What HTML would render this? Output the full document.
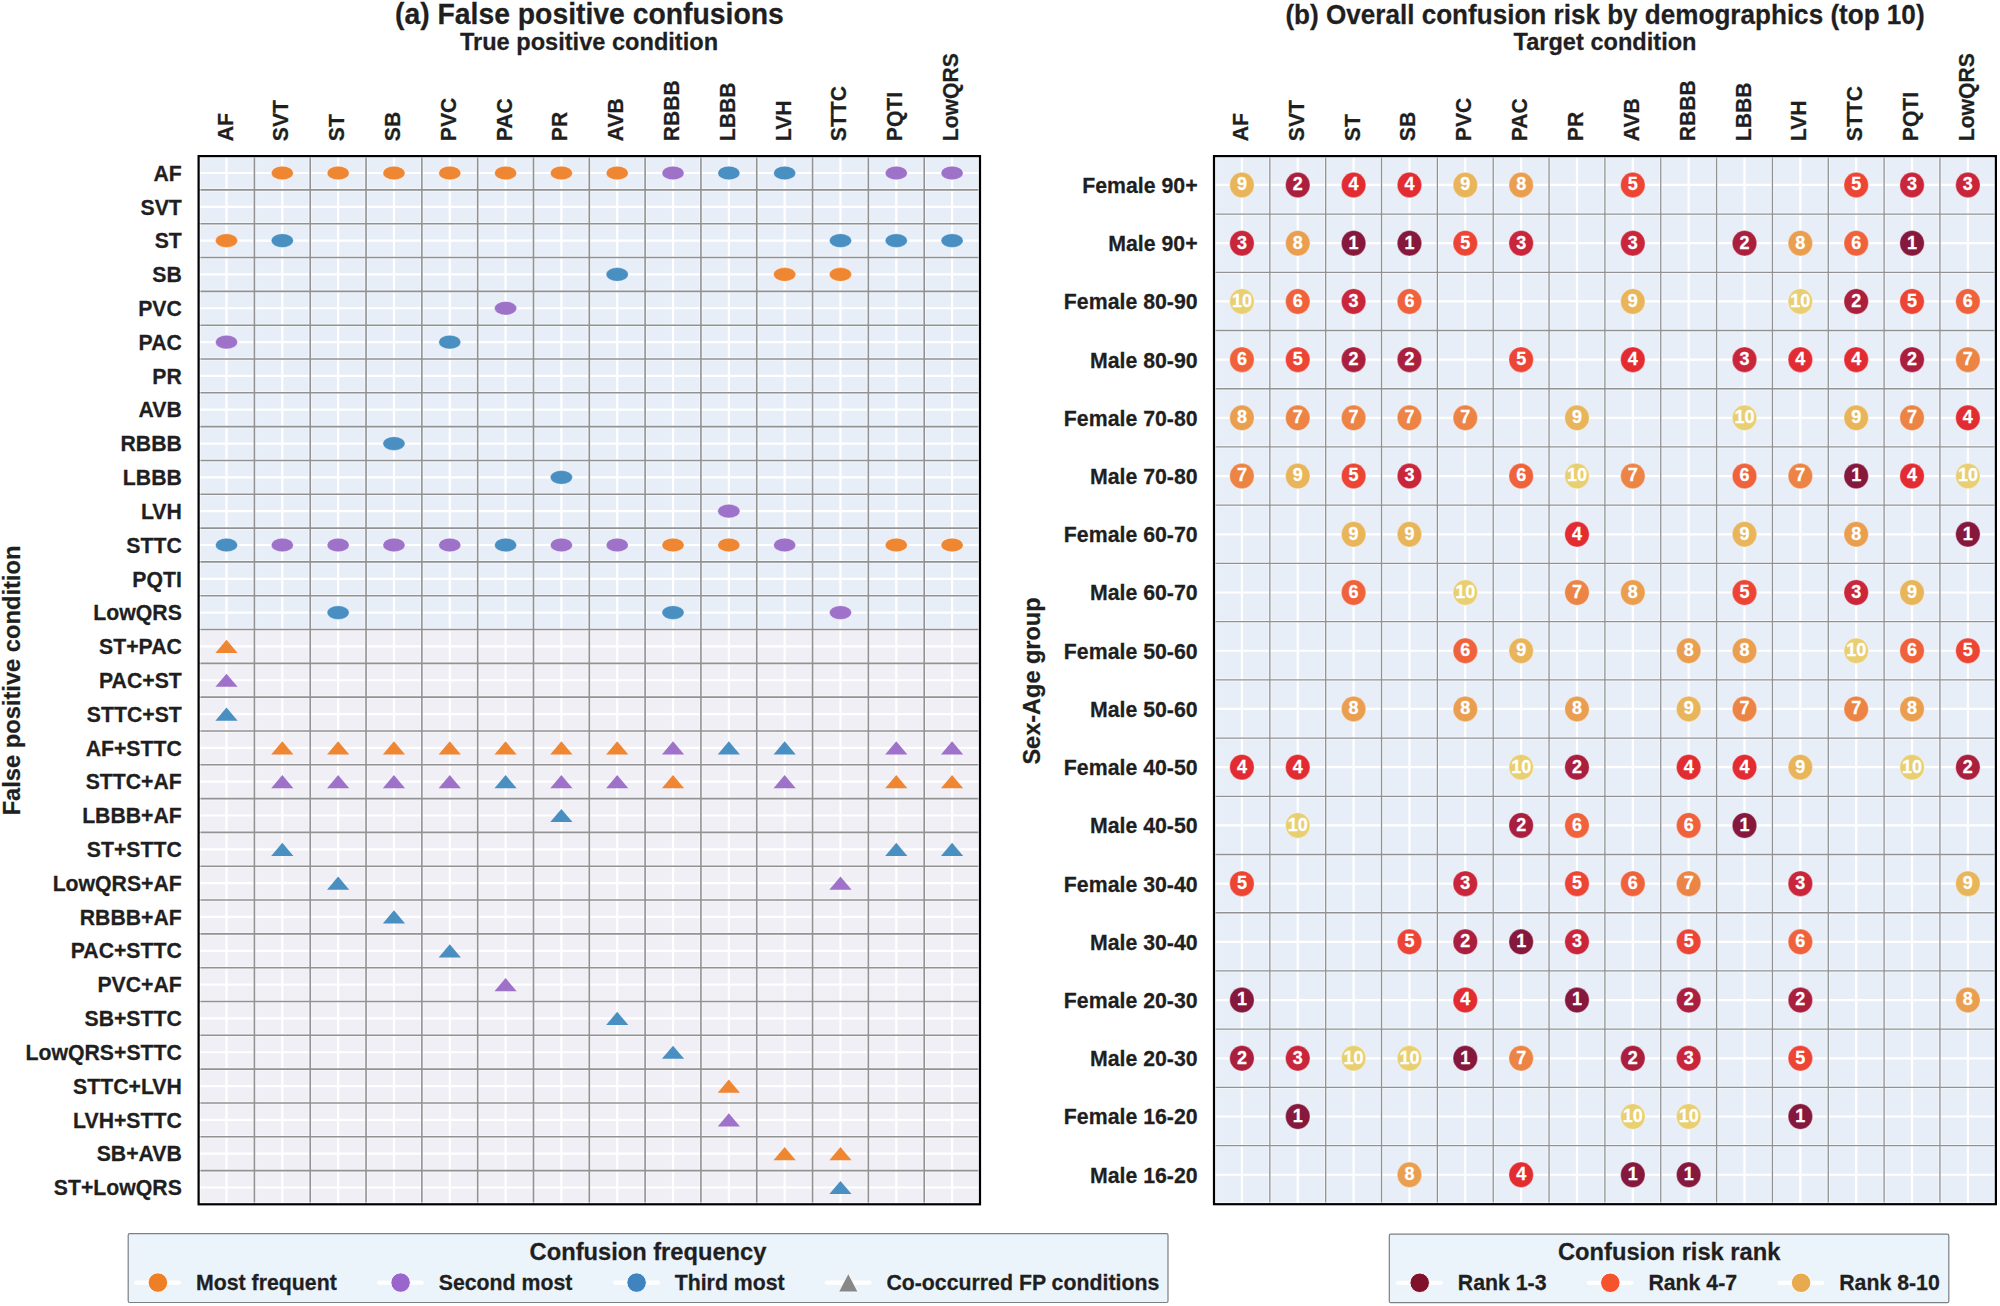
<!DOCTYPE html>
<html lang="en"><head><meta charset="utf-8"><title>Confusion figure</title>
<style>html,body{margin:0;padding:0;background:#fff}svg{display:block}text{stroke:#1f1f1f;stroke-width:.25px}text.w{fill:#fff;stroke:#fff}</style></head>
<body>
<svg width="2000" height="1306" viewBox="0 0 2000 1306" font-family="'Liberation Sans', Arial, sans-serif" font-weight="bold" fill="#1f1f1f">
<rect width="2000" height="1306" fill="#ffffff"/>
<text transform="translate(589.4 23.5) scale(1 1.04)" font-size="28.35" text-anchor="middle">(a) False positive confusions</text>
<text transform="translate(589 49.7) scale(1 1.04)" font-size="23.6" text-anchor="middle">True positive condition</text>
<text transform="translate(1605 23.7) scale(1 1.04)" font-size="26.1" text-anchor="middle">(b) Overall confusion risk by demographics (top 10)</text>
<text transform="translate(1605 49.7) scale(1 1.04)" font-size="23.6" text-anchor="middle">Target condition</text>
<rect x="198.6" y="156.1" width="781.4" height="473.43" fill="#e7eef7"/>
<rect x="198.6" y="629.53" width="781.4" height="574.87" fill="#efeff5"/>
<path d="M226.51 156.1V1204.4M282.32 156.1V1204.4M338.14 156.1V1204.4M393.95 156.1V1204.4M449.76 156.1V1204.4M505.58 156.1V1204.4M561.39 156.1V1204.4M617.21 156.1V1204.4M673.02 156.1V1204.4M728.84 156.1V1204.4M784.65 156.1V1204.4M840.46 156.1V1204.4M896.28 156.1V1204.4M952.09 156.1V1204.4M198.6 173.01H980M198.6 206.82H980M198.6 240.64H980M198.6 274.46H980M198.6 308.27H980M198.6 342.09H980M198.6 375.9H980M198.6 409.72H980M198.6 443.54H980M198.6 477.35H980M198.6 511.17H980M198.6 544.99H980M198.6 578.8H980M198.6 612.62H980M198.6 646.43H980M198.6 680.25H980M198.6 714.07H980M198.6 747.88H980M198.6 781.7H980M198.6 815.51H980M198.6 849.33H980M198.6 883.15H980M198.6 916.96H980M198.6 950.78H980M198.6 984.6H980M198.6 1018.41H980M198.6 1052.23H980M198.6 1086.04H980M198.6 1119.86H980M198.6 1153.68H980M198.6 1187.49H980" stroke="#ffffff" stroke-width="2.2" fill="none"/>
<path d="M254.41 156.1V1204.4M310.23 156.1V1204.4M366.04 156.1V1204.4M421.86 156.1V1204.4M477.67 156.1V1204.4M533.49 156.1V1204.4M589.3 156.1V1204.4M645.11 156.1V1204.4M700.93 156.1V1204.4M756.74 156.1V1204.4M812.56 156.1V1204.4M868.37 156.1V1204.4M924.19 156.1V1204.4M198.6 189.92H980M198.6 223.73H980M198.6 257.55H980M198.6 291.36H980M198.6 325.18H980M198.6 359H980M198.6 392.81H980M198.6 426.63H980M198.6 460.45H980M198.6 494.26H980M198.6 528.08H980M198.6 561.89H980M198.6 595.71H980M198.6 629.53H980M198.6 663.34H980M198.6 697.16H980M198.6 730.97H980M198.6 764.79H980M198.6 798.61H980M198.6 832.42H980M198.6 866.24H980M198.6 900.05H980M198.6 933.87H980M198.6 967.69H980M198.6 1001.5H980M198.6 1035.32H980M198.6 1069.14H980M198.6 1102.95H980M198.6 1136.77H980M198.6 1170.58H980" stroke="#fff" stroke-opacity="0.45" stroke-width="3.6" fill="none"/>
<path d="M254.41 156.1V1204.4M310.23 156.1V1204.4M366.04 156.1V1204.4M421.86 156.1V1204.4M477.67 156.1V1204.4M533.49 156.1V1204.4M589.3 156.1V1204.4M645.11 156.1V1204.4M700.93 156.1V1204.4M756.74 156.1V1204.4M812.56 156.1V1204.4M868.37 156.1V1204.4M924.19 156.1V1204.4M198.6 189.92H980M198.6 223.73H980M198.6 257.55H980M198.6 291.36H980M198.6 325.18H980M198.6 359H980M198.6 392.81H980M198.6 426.63H980M198.6 460.45H980M198.6 494.26H980M198.6 528.08H980M198.6 561.89H980M198.6 595.71H980M198.6 629.53H980M198.6 663.34H980M198.6 697.16H980M198.6 730.97H980M198.6 764.79H980M198.6 798.61H980M198.6 832.42H980M198.6 866.24H980M198.6 900.05H980M198.6 933.87H980M198.6 967.69H980M198.6 1001.5H980M198.6 1035.32H980M198.6 1069.14H980M198.6 1102.95H980M198.6 1136.77H980M198.6 1170.58H980" stroke="#929292" stroke-width="1.6" fill="none"/>
<ellipse cx="282.32" cy="173.01" rx="11.1" ry="6.85" fill="#ef8632" stroke="#fff" stroke-width="0.5" stroke-opacity="0.7"/>
<ellipse cx="338.14" cy="173.01" rx="11.1" ry="6.85" fill="#ef8632" stroke="#fff" stroke-width="0.5" stroke-opacity="0.7"/>
<ellipse cx="393.95" cy="173.01" rx="11.1" ry="6.85" fill="#ef8632" stroke="#fff" stroke-width="0.5" stroke-opacity="0.7"/>
<ellipse cx="449.76" cy="173.01" rx="11.1" ry="6.85" fill="#ef8632" stroke="#fff" stroke-width="0.5" stroke-opacity="0.7"/>
<ellipse cx="505.58" cy="173.01" rx="11.1" ry="6.85" fill="#ef8632" stroke="#fff" stroke-width="0.5" stroke-opacity="0.7"/>
<ellipse cx="561.39" cy="173.01" rx="11.1" ry="6.85" fill="#ef8632" stroke="#fff" stroke-width="0.5" stroke-opacity="0.7"/>
<ellipse cx="617.21" cy="173.01" rx="11.1" ry="6.85" fill="#ef8632" stroke="#fff" stroke-width="0.5" stroke-opacity="0.7"/>
<ellipse cx="673.02" cy="173.01" rx="11.1" ry="6.85" fill="#9f72c9" stroke="#fff" stroke-width="0.5" stroke-opacity="0.7"/>
<ellipse cx="728.84" cy="173.01" rx="11.1" ry="6.85" fill="#4a8fc1" stroke="#fff" stroke-width="0.5" stroke-opacity="0.7"/>
<ellipse cx="784.65" cy="173.01" rx="11.1" ry="6.85" fill="#4a8fc1" stroke="#fff" stroke-width="0.5" stroke-opacity="0.7"/>
<ellipse cx="896.28" cy="173.01" rx="11.1" ry="6.85" fill="#9f72c9" stroke="#fff" stroke-width="0.5" stroke-opacity="0.7"/>
<ellipse cx="952.09" cy="173.01" rx="11.1" ry="6.85" fill="#9f72c9" stroke="#fff" stroke-width="0.5" stroke-opacity="0.7"/>
<ellipse cx="226.51" cy="240.64" rx="11.1" ry="6.85" fill="#ef8632" stroke="#fff" stroke-width="0.5" stroke-opacity="0.7"/>
<ellipse cx="282.32" cy="240.64" rx="11.1" ry="6.85" fill="#4a8fc1" stroke="#fff" stroke-width="0.5" stroke-opacity="0.7"/>
<ellipse cx="840.46" cy="240.64" rx="11.1" ry="6.85" fill="#4a8fc1" stroke="#fff" stroke-width="0.5" stroke-opacity="0.7"/>
<ellipse cx="896.28" cy="240.64" rx="11.1" ry="6.85" fill="#4a8fc1" stroke="#fff" stroke-width="0.5" stroke-opacity="0.7"/>
<ellipse cx="952.09" cy="240.64" rx="11.1" ry="6.85" fill="#4a8fc1" stroke="#fff" stroke-width="0.5" stroke-opacity="0.7"/>
<ellipse cx="617.21" cy="274.46" rx="11.1" ry="6.85" fill="#4a8fc1" stroke="#fff" stroke-width="0.5" stroke-opacity="0.7"/>
<ellipse cx="784.65" cy="274.46" rx="11.1" ry="6.85" fill="#ef8632" stroke="#fff" stroke-width="0.5" stroke-opacity="0.7"/>
<ellipse cx="840.46" cy="274.46" rx="11.1" ry="6.85" fill="#ef8632" stroke="#fff" stroke-width="0.5" stroke-opacity="0.7"/>
<ellipse cx="505.58" cy="308.27" rx="11.1" ry="6.85" fill="#9f72c9" stroke="#fff" stroke-width="0.5" stroke-opacity="0.7"/>
<ellipse cx="226.51" cy="342.09" rx="11.1" ry="6.85" fill="#9f72c9" stroke="#fff" stroke-width="0.5" stroke-opacity="0.7"/>
<ellipse cx="449.76" cy="342.09" rx="11.1" ry="6.85" fill="#4a8fc1" stroke="#fff" stroke-width="0.5" stroke-opacity="0.7"/>
<ellipse cx="393.95" cy="443.54" rx="11.1" ry="6.85" fill="#4a8fc1" stroke="#fff" stroke-width="0.5" stroke-opacity="0.7"/>
<ellipse cx="561.39" cy="477.35" rx="11.1" ry="6.85" fill="#4a8fc1" stroke="#fff" stroke-width="0.5" stroke-opacity="0.7"/>
<ellipse cx="728.84" cy="511.17" rx="11.1" ry="6.85" fill="#9f72c9" stroke="#fff" stroke-width="0.5" stroke-opacity="0.7"/>
<ellipse cx="226.51" cy="544.99" rx="11.1" ry="6.85" fill="#4a8fc1" stroke="#fff" stroke-width="0.5" stroke-opacity="0.7"/>
<ellipse cx="282.32" cy="544.99" rx="11.1" ry="6.85" fill="#9f72c9" stroke="#fff" stroke-width="0.5" stroke-opacity="0.7"/>
<ellipse cx="338.14" cy="544.99" rx="11.1" ry="6.85" fill="#9f72c9" stroke="#fff" stroke-width="0.5" stroke-opacity="0.7"/>
<ellipse cx="393.95" cy="544.99" rx="11.1" ry="6.85" fill="#9f72c9" stroke="#fff" stroke-width="0.5" stroke-opacity="0.7"/>
<ellipse cx="449.76" cy="544.99" rx="11.1" ry="6.85" fill="#9f72c9" stroke="#fff" stroke-width="0.5" stroke-opacity="0.7"/>
<ellipse cx="505.58" cy="544.99" rx="11.1" ry="6.85" fill="#4a8fc1" stroke="#fff" stroke-width="0.5" stroke-opacity="0.7"/>
<ellipse cx="561.39" cy="544.99" rx="11.1" ry="6.85" fill="#9f72c9" stroke="#fff" stroke-width="0.5" stroke-opacity="0.7"/>
<ellipse cx="617.21" cy="544.99" rx="11.1" ry="6.85" fill="#9f72c9" stroke="#fff" stroke-width="0.5" stroke-opacity="0.7"/>
<ellipse cx="673.02" cy="544.99" rx="11.1" ry="6.85" fill="#ef8632" stroke="#fff" stroke-width="0.5" stroke-opacity="0.7"/>
<ellipse cx="728.84" cy="544.99" rx="11.1" ry="6.85" fill="#ef8632" stroke="#fff" stroke-width="0.5" stroke-opacity="0.7"/>
<ellipse cx="784.65" cy="544.99" rx="11.1" ry="6.85" fill="#9f72c9" stroke="#fff" stroke-width="0.5" stroke-opacity="0.7"/>
<ellipse cx="896.28" cy="544.99" rx="11.1" ry="6.85" fill="#ef8632" stroke="#fff" stroke-width="0.5" stroke-opacity="0.7"/>
<ellipse cx="952.09" cy="544.99" rx="11.1" ry="6.85" fill="#ef8632" stroke="#fff" stroke-width="0.5" stroke-opacity="0.7"/>
<ellipse cx="338.14" cy="612.62" rx="11.1" ry="6.85" fill="#4a8fc1" stroke="#fff" stroke-width="0.5" stroke-opacity="0.7"/>
<ellipse cx="673.02" cy="612.62" rx="11.1" ry="6.85" fill="#4a8fc1" stroke="#fff" stroke-width="0.5" stroke-opacity="0.7"/>
<ellipse cx="840.46" cy="612.62" rx="11.1" ry="6.85" fill="#9f72c9" stroke="#fff" stroke-width="0.5" stroke-opacity="0.7"/>
<path d="M226.51 639.83L237.61 653.03L215.41 653.03Z" fill="#ef8632"/>
<path d="M226.51 673.65L237.61 686.85L215.41 686.85Z" fill="#9f72c9"/>
<path d="M226.51 707.47L237.61 720.67L215.41 720.67Z" fill="#4a8fc1"/>
<path d="M282.32 741.28L293.42 754.48L271.22 754.48Z" fill="#ef8632"/>
<path d="M338.14 741.28L349.24 754.48L327.04 754.48Z" fill="#ef8632"/>
<path d="M393.95 741.28L405.05 754.48L382.85 754.48Z" fill="#ef8632"/>
<path d="M449.76 741.28L460.86 754.48L438.66 754.48Z" fill="#ef8632"/>
<path d="M505.58 741.28L516.68 754.48L494.48 754.48Z" fill="#ef8632"/>
<path d="M561.39 741.28L572.49 754.48L550.29 754.48Z" fill="#ef8632"/>
<path d="M617.21 741.28L628.31 754.48L606.11 754.48Z" fill="#ef8632"/>
<path d="M673.02 741.28L684.12 754.48L661.92 754.48Z" fill="#9f72c9"/>
<path d="M728.84 741.28L739.94 754.48L717.74 754.48Z" fill="#4a8fc1"/>
<path d="M784.65 741.28L795.75 754.48L773.55 754.48Z" fill="#4a8fc1"/>
<path d="M896.28 741.28L907.38 754.48L885.18 754.48Z" fill="#9f72c9"/>
<path d="M952.09 741.28L963.19 754.48L940.99 754.48Z" fill="#9f72c9"/>
<path d="M282.32 775.1L293.42 788.3L271.22 788.3Z" fill="#9f72c9"/>
<path d="M338.14 775.1L349.24 788.3L327.04 788.3Z" fill="#9f72c9"/>
<path d="M393.95 775.1L405.05 788.3L382.85 788.3Z" fill="#9f72c9"/>
<path d="M449.76 775.1L460.86 788.3L438.66 788.3Z" fill="#9f72c9"/>
<path d="M505.58 775.1L516.68 788.3L494.48 788.3Z" fill="#4a8fc1"/>
<path d="M561.39 775.1L572.49 788.3L550.29 788.3Z" fill="#9f72c9"/>
<path d="M617.21 775.1L628.31 788.3L606.11 788.3Z" fill="#9f72c9"/>
<path d="M673.02 775.1L684.12 788.3L661.92 788.3Z" fill="#ef8632"/>
<path d="M784.65 775.1L795.75 788.3L773.55 788.3Z" fill="#9f72c9"/>
<path d="M896.28 775.1L907.38 788.3L885.18 788.3Z" fill="#ef8632"/>
<path d="M952.09 775.1L963.19 788.3L940.99 788.3Z" fill="#ef8632"/>
<path d="M561.39 808.91L572.49 822.11L550.29 822.11Z" fill="#4a8fc1"/>
<path d="M282.32 842.73L293.42 855.93L271.22 855.93Z" fill="#4a8fc1"/>
<path d="M896.28 842.73L907.38 855.93L885.18 855.93Z" fill="#4a8fc1"/>
<path d="M952.09 842.73L963.19 855.93L940.99 855.93Z" fill="#4a8fc1"/>
<path d="M338.14 876.55L349.24 889.75L327.04 889.75Z" fill="#4a8fc1"/>
<path d="M840.46 876.55L851.56 889.75L829.36 889.75Z" fill="#9f72c9"/>
<path d="M393.95 910.36L405.05 923.56L382.85 923.56Z" fill="#4a8fc1"/>
<path d="M449.76 944.18L460.86 957.38L438.66 957.38Z" fill="#4a8fc1"/>
<path d="M505.58 978L516.68 991.2L494.48 991.2Z" fill="#9f72c9"/>
<path d="M617.21 1011.81L628.31 1025.01L606.11 1025.01Z" fill="#4a8fc1"/>
<path d="M673.02 1045.63L684.12 1058.83L661.92 1058.83Z" fill="#4a8fc1"/>
<path d="M728.84 1079.44L739.94 1092.64L717.74 1092.64Z" fill="#ef8632"/>
<path d="M728.84 1113.26L739.94 1126.46L717.74 1126.46Z" fill="#9f72c9"/>
<path d="M784.65 1147.08L795.75 1160.28L773.55 1160.28Z" fill="#ef8632"/>
<path d="M840.46 1147.08L851.56 1160.28L829.36 1160.28Z" fill="#ef8632"/>
<path d="M840.46 1180.89L851.56 1194.09L829.36 1194.09Z" fill="#4a8fc1"/>
<rect x="200.2" y="157.7" width="778.2" height="1045" fill="none" stroke="#fff" stroke-opacity="0.6" stroke-width="1"/>
<rect x="198.6" y="156.1" width="781.4" height="1048.2" fill="none" stroke="#000" stroke-width="2.2"/>
<text transform="translate(181.8 180.71) scale(1 1.04)" font-size="21.25" text-anchor="end">AF</text>
<text transform="translate(181.8 214.52) scale(1 1.04)" font-size="21.25" text-anchor="end">SVT</text>
<text transform="translate(181.8 248.34) scale(1 1.04)" font-size="21.25" text-anchor="end">ST</text>
<text transform="translate(181.8 282.16) scale(1 1.04)" font-size="21.25" text-anchor="end">SB</text>
<text transform="translate(181.8 315.97) scale(1 1.04)" font-size="21.25" text-anchor="end">PVC</text>
<text transform="translate(181.8 349.79) scale(1 1.04)" font-size="21.25" text-anchor="end">PAC</text>
<text transform="translate(181.8 383.6) scale(1 1.04)" font-size="21.25" text-anchor="end">PR</text>
<text transform="translate(181.8 417.42) scale(1 1.04)" font-size="21.25" text-anchor="end">AVB</text>
<text transform="translate(181.8 451.24) scale(1 1.04)" font-size="21.25" text-anchor="end">RBBB</text>
<text transform="translate(181.8 485.05) scale(1 1.04)" font-size="21.25" text-anchor="end">LBBB</text>
<text transform="translate(181.8 518.87) scale(1 1.04)" font-size="21.25" text-anchor="end">LVH</text>
<text transform="translate(181.8 552.69) scale(1 1.04)" font-size="21.25" text-anchor="end">STTC</text>
<text transform="translate(181.8 586.5) scale(1 1.04)" font-size="21.25" text-anchor="end">PQTI</text>
<text transform="translate(181.8 620.32) scale(1 1.04)" font-size="21.25" text-anchor="end">LowQRS</text>
<text transform="translate(181.8 654.13) scale(1 1.04)" font-size="21.25" text-anchor="end">ST+PAC</text>
<text transform="translate(181.8 687.95) scale(1 1.04)" font-size="21.25" text-anchor="end">PAC+ST</text>
<text transform="translate(181.8 721.77) scale(1 1.04)" font-size="21.25" text-anchor="end">STTC+ST</text>
<text transform="translate(181.8 755.58) scale(1 1.04)" font-size="21.25" text-anchor="end">AF+STTC</text>
<text transform="translate(181.8 789.4) scale(1 1.04)" font-size="21.25" text-anchor="end">STTC+AF</text>
<text transform="translate(181.8 823.21) scale(1 1.04)" font-size="21.25" text-anchor="end">LBBB+AF</text>
<text transform="translate(181.8 857.03) scale(1 1.04)" font-size="21.25" text-anchor="end">ST+STTC</text>
<text transform="translate(181.8 890.85) scale(1 1.04)" font-size="21.25" text-anchor="end">LowQRS+AF</text>
<text transform="translate(181.8 924.66) scale(1 1.04)" font-size="21.25" text-anchor="end">RBBB+AF</text>
<text transform="translate(181.8 958.48) scale(1 1.04)" font-size="21.25" text-anchor="end">PAC+STTC</text>
<text transform="translate(181.8 992.3) scale(1 1.04)" font-size="21.25" text-anchor="end">PVC+AF</text>
<text transform="translate(181.8 1026.11) scale(1 1.04)" font-size="21.25" text-anchor="end">SB+STTC</text>
<text transform="translate(181.8 1059.93) scale(1 1.04)" font-size="21.25" text-anchor="end">LowQRS+STTC</text>
<text transform="translate(181.8 1093.74) scale(1 1.04)" font-size="21.25" text-anchor="end">STTC+LVH</text>
<text transform="translate(181.8 1127.56) scale(1 1.04)" font-size="21.25" text-anchor="end">LVH+STTC</text>
<text transform="translate(181.8 1161.38) scale(1 1.04)" font-size="21.25" text-anchor="end">SB+AVB</text>
<text transform="translate(181.8 1195.19) scale(1 1.04)" font-size="21.25" text-anchor="end">ST+LowQRS</text>
<text transform="translate(232.51 141.2) rotate(-90) scale(1 1.04)" font-size="21.15">AF</text>
<text transform="translate(288.32 141.2) rotate(-90) scale(1 1.04)" font-size="21.15">SVT</text>
<text transform="translate(344.14 141.2) rotate(-90) scale(1 1.04)" font-size="21.15">ST</text>
<text transform="translate(399.95 141.2) rotate(-90) scale(1 1.04)" font-size="21.15">SB</text>
<text transform="translate(455.76 141.2) rotate(-90) scale(1 1.04)" font-size="21.15">PVC</text>
<text transform="translate(511.58 141.2) rotate(-90) scale(1 1.04)" font-size="21.15">PAC</text>
<text transform="translate(567.39 141.2) rotate(-90) scale(1 1.04)" font-size="21.15">PR</text>
<text transform="translate(623.21 141.2) rotate(-90) scale(1 1.04)" font-size="21.15">AVB</text>
<text transform="translate(679.02 141.2) rotate(-90) scale(1 1.04)" font-size="21.15">RBBB</text>
<text transform="translate(734.84 141.2) rotate(-90) scale(1 1.04)" font-size="21.15">LBBB</text>
<text transform="translate(790.65 141.2) rotate(-90) scale(1 1.04)" font-size="21.15">LVH</text>
<text transform="translate(846.46 141.2) rotate(-90) scale(1 1.04)" font-size="21.15">STTC</text>
<text transform="translate(902.28 141.2) rotate(-90) scale(1 1.04)" font-size="21.15">PQTI</text>
<text transform="translate(958.09 141.2) rotate(-90) scale(1 1.04)" font-size="21.15">LowQRS</text>
<text transform="translate(20.2 680.5) rotate(-90) scale(1 1.04)" font-size="23.7" text-anchor="middle">False positive condition</text>
<rect x="1214" y="155.85" width="781.8" height="1048" fill="#e7eef7"/>
<path d="M1241.92 155.85V1203.85M1297.76 155.85V1203.85M1353.61 155.85V1203.85M1409.45 155.85V1203.85M1465.29 155.85V1203.85M1521.14 155.85V1203.85M1576.98 155.85V1203.85M1632.82 155.85V1203.85M1688.66 155.85V1203.85M1744.51 155.85V1203.85M1800.35 155.85V1203.85M1856.19 155.85V1203.85M1912.04 155.85V1203.85M1967.88 155.85V1203.85M1214 184.96H1995.8M1214 243.18H1995.8M1214 301.41H1995.8M1214 359.63H1995.8M1214 417.85H1995.8M1214 476.07H1995.8M1214 534.29H1995.8M1214 592.52H1995.8M1214 650.74H1995.8M1214 708.96H1995.8M1214 767.18H1995.8M1214 825.41H1995.8M1214 883.63H1995.8M1214 941.85H1995.8M1214 1000.07H1995.8M1214 1058.29H1995.8M1214 1116.52H1995.8M1214 1174.74H1995.8" stroke="#ffffff" stroke-width="2.2" fill="none"/>
<path d="M1269.84 155.85V1203.85M1325.69 155.85V1203.85M1381.53 155.85V1203.85M1437.37 155.85V1203.85M1493.21 155.85V1203.85M1549.06 155.85V1203.85M1604.9 155.85V1203.85M1660.74 155.85V1203.85M1716.59 155.85V1203.85M1772.43 155.85V1203.85M1828.27 155.85V1203.85M1884.11 155.85V1203.85M1939.96 155.85V1203.85M1214 214.07H1995.8M1214 272.29H1995.8M1214 330.52H1995.8M1214 388.74H1995.8M1214 446.96H1995.8M1214 505.18H1995.8M1214 563.41H1995.8M1214 621.63H1995.8M1214 679.85H1995.8M1214 738.07H1995.8M1214 796.29H1995.8M1214 854.52H1995.8M1214 912.74H1995.8M1214 970.96H1995.8M1214 1029.18H1995.8M1214 1087.41H1995.8M1214 1145.63H1995.8" stroke="#fff" stroke-opacity="0.45" stroke-width="3.3" fill="none"/>
<path d="M1269.84 155.85V1203.85M1325.69 155.85V1203.85M1381.53 155.85V1203.85M1437.37 155.85V1203.85M1493.21 155.85V1203.85M1549.06 155.85V1203.85M1604.9 155.85V1203.85M1660.74 155.85V1203.85M1716.59 155.85V1203.85M1772.43 155.85V1203.85M1828.27 155.85V1203.85M1884.11 155.85V1203.85M1939.96 155.85V1203.85M1214 214.07H1995.8M1214 272.29H1995.8M1214 330.52H1995.8M1214 388.74H1995.8M1214 446.96H1995.8M1214 505.18H1995.8M1214 563.41H1995.8M1214 621.63H1995.8M1214 679.85H1995.8M1214 738.07H1995.8M1214 796.29H1995.8M1214 854.52H1995.8M1214 912.74H1995.8M1214 970.96H1995.8M1214 1029.18H1995.8M1214 1087.41H1995.8M1214 1145.63H1995.8" stroke="#929292" stroke-width="1.3" fill="none"/>
<ellipse cx="1241.92" cy="184.96" rx="12.25" ry="12.75" fill="#e8b55a" stroke="#fff" stroke-width="0.5" stroke-opacity="0.7"/>
<text transform="translate(1241.92 190.36) scale(1 1.04)" font-size="18" text-anchor="middle" class="w">9</text>
<ellipse cx="1297.76" cy="184.96" rx="12.25" ry="12.75" fill="#ab1f3e" stroke="#fff" stroke-width="0.5" stroke-opacity="0.7"/>
<text transform="translate(1297.76 190.36) scale(1 1.04)" font-size="18" text-anchor="middle" class="w">2</text>
<ellipse cx="1353.61" cy="184.96" rx="12.25" ry="12.75" fill="#e22c31" stroke="#fff" stroke-width="0.5" stroke-opacity="0.7"/>
<text transform="translate(1353.61 190.36) scale(1 1.04)" font-size="18" text-anchor="middle" class="w">4</text>
<ellipse cx="1409.45" cy="184.96" rx="12.25" ry="12.75" fill="#e22c31" stroke="#fff" stroke-width="0.5" stroke-opacity="0.7"/>
<text transform="translate(1409.45 190.36) scale(1 1.04)" font-size="18" text-anchor="middle" class="w">4</text>
<ellipse cx="1465.29" cy="184.96" rx="12.25" ry="12.75" fill="#e8b55a" stroke="#fff" stroke-width="0.5" stroke-opacity="0.7"/>
<text transform="translate(1465.29 190.36) scale(1 1.04)" font-size="18" text-anchor="middle" class="w">9</text>
<ellipse cx="1521.14" cy="184.96" rx="12.25" ry="12.75" fill="#ea9f50" stroke="#fff" stroke-width="0.5" stroke-opacity="0.7"/>
<text transform="translate(1521.14 190.36) scale(1 1.04)" font-size="18" text-anchor="middle" class="w">8</text>
<ellipse cx="1632.82" cy="184.96" rx="12.25" ry="12.75" fill="#ec4535" stroke="#fff" stroke-width="0.5" stroke-opacity="0.7"/>
<text transform="translate(1632.82 190.36) scale(1 1.04)" font-size="18" text-anchor="middle" class="w">5</text>
<ellipse cx="1856.19" cy="184.96" rx="12.25" ry="12.75" fill="#ec4535" stroke="#fff" stroke-width="0.5" stroke-opacity="0.7"/>
<text transform="translate(1856.19 190.36) scale(1 1.04)" font-size="18" text-anchor="middle" class="w">5</text>
<ellipse cx="1912.04" cy="184.96" rx="12.25" ry="12.75" fill="#c9253b" stroke="#fff" stroke-width="0.5" stroke-opacity="0.7"/>
<text transform="translate(1912.04 190.36) scale(1 1.04)" font-size="18" text-anchor="middle" class="w">3</text>
<ellipse cx="1967.88" cy="184.96" rx="12.25" ry="12.75" fill="#c9253b" stroke="#fff" stroke-width="0.5" stroke-opacity="0.7"/>
<text transform="translate(1967.88 190.36) scale(1 1.04)" font-size="18" text-anchor="middle" class="w">3</text>
<ellipse cx="1241.92" cy="243.18" rx="12.25" ry="12.75" fill="#c9253b" stroke="#fff" stroke-width="0.5" stroke-opacity="0.7"/>
<text transform="translate(1241.92 248.58) scale(1 1.04)" font-size="18" text-anchor="middle" class="w">3</text>
<ellipse cx="1297.76" cy="243.18" rx="12.25" ry="12.75" fill="#ea9f50" stroke="#fff" stroke-width="0.5" stroke-opacity="0.7"/>
<text transform="translate(1297.76 248.58) scale(1 1.04)" font-size="18" text-anchor="middle" class="w">8</text>
<ellipse cx="1353.61" cy="243.18" rx="12.25" ry="12.75" fill="#85183c" stroke="#fff" stroke-width="0.5" stroke-opacity="0.7"/>
<text transform="translate(1353.61 248.58) scale(1 1.04)" font-size="18" text-anchor="middle" class="w">1</text>
<ellipse cx="1409.45" cy="243.18" rx="12.25" ry="12.75" fill="#85183c" stroke="#fff" stroke-width="0.5" stroke-opacity="0.7"/>
<text transform="translate(1409.45 248.58) scale(1 1.04)" font-size="18" text-anchor="middle" class="w">1</text>
<ellipse cx="1465.29" cy="243.18" rx="12.25" ry="12.75" fill="#ec4535" stroke="#fff" stroke-width="0.5" stroke-opacity="0.7"/>
<text transform="translate(1465.29 248.58) scale(1 1.04)" font-size="18" text-anchor="middle" class="w">5</text>
<ellipse cx="1521.14" cy="243.18" rx="12.25" ry="12.75" fill="#c9253b" stroke="#fff" stroke-width="0.5" stroke-opacity="0.7"/>
<text transform="translate(1521.14 248.58) scale(1 1.04)" font-size="18" text-anchor="middle" class="w">3</text>
<ellipse cx="1632.82" cy="243.18" rx="12.25" ry="12.75" fill="#c9253b" stroke="#fff" stroke-width="0.5" stroke-opacity="0.7"/>
<text transform="translate(1632.82 248.58) scale(1 1.04)" font-size="18" text-anchor="middle" class="w">3</text>
<ellipse cx="1744.51" cy="243.18" rx="12.25" ry="12.75" fill="#ab1f3e" stroke="#fff" stroke-width="0.5" stroke-opacity="0.7"/>
<text transform="translate(1744.51 248.58) scale(1 1.04)" font-size="18" text-anchor="middle" class="w">2</text>
<ellipse cx="1800.35" cy="243.18" rx="12.25" ry="12.75" fill="#ea9f50" stroke="#fff" stroke-width="0.5" stroke-opacity="0.7"/>
<text transform="translate(1800.35 248.58) scale(1 1.04)" font-size="18" text-anchor="middle" class="w">8</text>
<ellipse cx="1856.19" cy="243.18" rx="12.25" ry="12.75" fill="#f0623c" stroke="#fff" stroke-width="0.5" stroke-opacity="0.7"/>
<text transform="translate(1856.19 248.58) scale(1 1.04)" font-size="18" text-anchor="middle" class="w">6</text>
<ellipse cx="1912.04" cy="243.18" rx="12.25" ry="12.75" fill="#85183c" stroke="#fff" stroke-width="0.5" stroke-opacity="0.7"/>
<text transform="translate(1912.04 248.58) scale(1 1.04)" font-size="18" text-anchor="middle" class="w">1</text>
<ellipse cx="1241.92" cy="301.41" rx="12.25" ry="12.75" fill="#e8cf72" stroke="#fff" stroke-width="0.5" stroke-opacity="0.7"/>
<text transform="translate(1241.92 306.81) scale(1 1.04)" font-size="18" text-anchor="middle" class="w">10</text>
<ellipse cx="1297.76" cy="301.41" rx="12.25" ry="12.75" fill="#f0623c" stroke="#fff" stroke-width="0.5" stroke-opacity="0.7"/>
<text transform="translate(1297.76 306.81) scale(1 1.04)" font-size="18" text-anchor="middle" class="w">6</text>
<ellipse cx="1353.61" cy="301.41" rx="12.25" ry="12.75" fill="#c9253b" stroke="#fff" stroke-width="0.5" stroke-opacity="0.7"/>
<text transform="translate(1353.61 306.81) scale(1 1.04)" font-size="18" text-anchor="middle" class="w">3</text>
<ellipse cx="1409.45" cy="301.41" rx="12.25" ry="12.75" fill="#f0623c" stroke="#fff" stroke-width="0.5" stroke-opacity="0.7"/>
<text transform="translate(1409.45 306.81) scale(1 1.04)" font-size="18" text-anchor="middle" class="w">6</text>
<ellipse cx="1632.82" cy="301.41" rx="12.25" ry="12.75" fill="#e8b55a" stroke="#fff" stroke-width="0.5" stroke-opacity="0.7"/>
<text transform="translate(1632.82 306.81) scale(1 1.04)" font-size="18" text-anchor="middle" class="w">9</text>
<ellipse cx="1800.35" cy="301.41" rx="12.25" ry="12.75" fill="#e8cf72" stroke="#fff" stroke-width="0.5" stroke-opacity="0.7"/>
<text transform="translate(1800.35 306.81) scale(1 1.04)" font-size="18" text-anchor="middle" class="w">10</text>
<ellipse cx="1856.19" cy="301.41" rx="12.25" ry="12.75" fill="#ab1f3e" stroke="#fff" stroke-width="0.5" stroke-opacity="0.7"/>
<text transform="translate(1856.19 306.81) scale(1 1.04)" font-size="18" text-anchor="middle" class="w">2</text>
<ellipse cx="1912.04" cy="301.41" rx="12.25" ry="12.75" fill="#ec4535" stroke="#fff" stroke-width="0.5" stroke-opacity="0.7"/>
<text transform="translate(1912.04 306.81) scale(1 1.04)" font-size="18" text-anchor="middle" class="w">5</text>
<ellipse cx="1967.88" cy="301.41" rx="12.25" ry="12.75" fill="#f0623c" stroke="#fff" stroke-width="0.5" stroke-opacity="0.7"/>
<text transform="translate(1967.88 306.81) scale(1 1.04)" font-size="18" text-anchor="middle" class="w">6</text>
<ellipse cx="1241.92" cy="359.63" rx="12.25" ry="12.75" fill="#f0623c" stroke="#fff" stroke-width="0.5" stroke-opacity="0.7"/>
<text transform="translate(1241.92 365.03) scale(1 1.04)" font-size="18" text-anchor="middle" class="w">6</text>
<ellipse cx="1297.76" cy="359.63" rx="12.25" ry="12.75" fill="#ec4535" stroke="#fff" stroke-width="0.5" stroke-opacity="0.7"/>
<text transform="translate(1297.76 365.03) scale(1 1.04)" font-size="18" text-anchor="middle" class="w">5</text>
<ellipse cx="1353.61" cy="359.63" rx="12.25" ry="12.75" fill="#ab1f3e" stroke="#fff" stroke-width="0.5" stroke-opacity="0.7"/>
<text transform="translate(1353.61 365.03) scale(1 1.04)" font-size="18" text-anchor="middle" class="w">2</text>
<ellipse cx="1409.45" cy="359.63" rx="12.25" ry="12.75" fill="#ab1f3e" stroke="#fff" stroke-width="0.5" stroke-opacity="0.7"/>
<text transform="translate(1409.45 365.03) scale(1 1.04)" font-size="18" text-anchor="middle" class="w">2</text>
<ellipse cx="1521.14" cy="359.63" rx="12.25" ry="12.75" fill="#ec4535" stroke="#fff" stroke-width="0.5" stroke-opacity="0.7"/>
<text transform="translate(1521.14 365.03) scale(1 1.04)" font-size="18" text-anchor="middle" class="w">5</text>
<ellipse cx="1632.82" cy="359.63" rx="12.25" ry="12.75" fill="#e22c31" stroke="#fff" stroke-width="0.5" stroke-opacity="0.7"/>
<text transform="translate(1632.82 365.03) scale(1 1.04)" font-size="18" text-anchor="middle" class="w">4</text>
<ellipse cx="1744.51" cy="359.63" rx="12.25" ry="12.75" fill="#c9253b" stroke="#fff" stroke-width="0.5" stroke-opacity="0.7"/>
<text transform="translate(1744.51 365.03) scale(1 1.04)" font-size="18" text-anchor="middle" class="w">3</text>
<ellipse cx="1800.35" cy="359.63" rx="12.25" ry="12.75" fill="#e22c31" stroke="#fff" stroke-width="0.5" stroke-opacity="0.7"/>
<text transform="translate(1800.35 365.03) scale(1 1.04)" font-size="18" text-anchor="middle" class="w">4</text>
<ellipse cx="1856.19" cy="359.63" rx="12.25" ry="12.75" fill="#e22c31" stroke="#fff" stroke-width="0.5" stroke-opacity="0.7"/>
<text transform="translate(1856.19 365.03) scale(1 1.04)" font-size="18" text-anchor="middle" class="w">4</text>
<ellipse cx="1912.04" cy="359.63" rx="12.25" ry="12.75" fill="#ab1f3e" stroke="#fff" stroke-width="0.5" stroke-opacity="0.7"/>
<text transform="translate(1912.04 365.03) scale(1 1.04)" font-size="18" text-anchor="middle" class="w">2</text>
<ellipse cx="1967.88" cy="359.63" rx="12.25" ry="12.75" fill="#ec8445" stroke="#fff" stroke-width="0.5" stroke-opacity="0.7"/>
<text transform="translate(1967.88 365.03) scale(1 1.04)" font-size="18" text-anchor="middle" class="w">7</text>
<ellipse cx="1241.92" cy="417.85" rx="12.25" ry="12.75" fill="#ea9f50" stroke="#fff" stroke-width="0.5" stroke-opacity="0.7"/>
<text transform="translate(1241.92 423.25) scale(1 1.04)" font-size="18" text-anchor="middle" class="w">8</text>
<ellipse cx="1297.76" cy="417.85" rx="12.25" ry="12.75" fill="#ec8445" stroke="#fff" stroke-width="0.5" stroke-opacity="0.7"/>
<text transform="translate(1297.76 423.25) scale(1 1.04)" font-size="18" text-anchor="middle" class="w">7</text>
<ellipse cx="1353.61" cy="417.85" rx="12.25" ry="12.75" fill="#ec8445" stroke="#fff" stroke-width="0.5" stroke-opacity="0.7"/>
<text transform="translate(1353.61 423.25) scale(1 1.04)" font-size="18" text-anchor="middle" class="w">7</text>
<ellipse cx="1409.45" cy="417.85" rx="12.25" ry="12.75" fill="#ec8445" stroke="#fff" stroke-width="0.5" stroke-opacity="0.7"/>
<text transform="translate(1409.45 423.25) scale(1 1.04)" font-size="18" text-anchor="middle" class="w">7</text>
<ellipse cx="1465.29" cy="417.85" rx="12.25" ry="12.75" fill="#ec8445" stroke="#fff" stroke-width="0.5" stroke-opacity="0.7"/>
<text transform="translate(1465.29 423.25) scale(1 1.04)" font-size="18" text-anchor="middle" class="w">7</text>
<ellipse cx="1576.98" cy="417.85" rx="12.25" ry="12.75" fill="#e8b55a" stroke="#fff" stroke-width="0.5" stroke-opacity="0.7"/>
<text transform="translate(1576.98 423.25) scale(1 1.04)" font-size="18" text-anchor="middle" class="w">9</text>
<ellipse cx="1744.51" cy="417.85" rx="12.25" ry="12.75" fill="#e8cf72" stroke="#fff" stroke-width="0.5" stroke-opacity="0.7"/>
<text transform="translate(1744.51 423.25) scale(1 1.04)" font-size="18" text-anchor="middle" class="w">10</text>
<ellipse cx="1856.19" cy="417.85" rx="12.25" ry="12.75" fill="#e8b55a" stroke="#fff" stroke-width="0.5" stroke-opacity="0.7"/>
<text transform="translate(1856.19 423.25) scale(1 1.04)" font-size="18" text-anchor="middle" class="w">9</text>
<ellipse cx="1912.04" cy="417.85" rx="12.25" ry="12.75" fill="#ec8445" stroke="#fff" stroke-width="0.5" stroke-opacity="0.7"/>
<text transform="translate(1912.04 423.25) scale(1 1.04)" font-size="18" text-anchor="middle" class="w">7</text>
<ellipse cx="1967.88" cy="417.85" rx="12.25" ry="12.75" fill="#e22c31" stroke="#fff" stroke-width="0.5" stroke-opacity="0.7"/>
<text transform="translate(1967.88 423.25) scale(1 1.04)" font-size="18" text-anchor="middle" class="w">4</text>
<ellipse cx="1241.92" cy="476.07" rx="12.25" ry="12.75" fill="#ec8445" stroke="#fff" stroke-width="0.5" stroke-opacity="0.7"/>
<text transform="translate(1241.92 481.47) scale(1 1.04)" font-size="18" text-anchor="middle" class="w">7</text>
<ellipse cx="1297.76" cy="476.07" rx="12.25" ry="12.75" fill="#e8b55a" stroke="#fff" stroke-width="0.5" stroke-opacity="0.7"/>
<text transform="translate(1297.76 481.47) scale(1 1.04)" font-size="18" text-anchor="middle" class="w">9</text>
<ellipse cx="1353.61" cy="476.07" rx="12.25" ry="12.75" fill="#ec4535" stroke="#fff" stroke-width="0.5" stroke-opacity="0.7"/>
<text transform="translate(1353.61 481.47) scale(1 1.04)" font-size="18" text-anchor="middle" class="w">5</text>
<ellipse cx="1409.45" cy="476.07" rx="12.25" ry="12.75" fill="#c9253b" stroke="#fff" stroke-width="0.5" stroke-opacity="0.7"/>
<text transform="translate(1409.45 481.47) scale(1 1.04)" font-size="18" text-anchor="middle" class="w">3</text>
<ellipse cx="1521.14" cy="476.07" rx="12.25" ry="12.75" fill="#f0623c" stroke="#fff" stroke-width="0.5" stroke-opacity="0.7"/>
<text transform="translate(1521.14 481.47) scale(1 1.04)" font-size="18" text-anchor="middle" class="w">6</text>
<ellipse cx="1576.98" cy="476.07" rx="12.25" ry="12.75" fill="#e8cf72" stroke="#fff" stroke-width="0.5" stroke-opacity="0.7"/>
<text transform="translate(1576.98 481.47) scale(1 1.04)" font-size="18" text-anchor="middle" class="w">10</text>
<ellipse cx="1632.82" cy="476.07" rx="12.25" ry="12.75" fill="#ec8445" stroke="#fff" stroke-width="0.5" stroke-opacity="0.7"/>
<text transform="translate(1632.82 481.47) scale(1 1.04)" font-size="18" text-anchor="middle" class="w">7</text>
<ellipse cx="1744.51" cy="476.07" rx="12.25" ry="12.75" fill="#f0623c" stroke="#fff" stroke-width="0.5" stroke-opacity="0.7"/>
<text transform="translate(1744.51 481.47) scale(1 1.04)" font-size="18" text-anchor="middle" class="w">6</text>
<ellipse cx="1800.35" cy="476.07" rx="12.25" ry="12.75" fill="#ec8445" stroke="#fff" stroke-width="0.5" stroke-opacity="0.7"/>
<text transform="translate(1800.35 481.47) scale(1 1.04)" font-size="18" text-anchor="middle" class="w">7</text>
<ellipse cx="1856.19" cy="476.07" rx="12.25" ry="12.75" fill="#85183c" stroke="#fff" stroke-width="0.5" stroke-opacity="0.7"/>
<text transform="translate(1856.19 481.47) scale(1 1.04)" font-size="18" text-anchor="middle" class="w">1</text>
<ellipse cx="1912.04" cy="476.07" rx="12.25" ry="12.75" fill="#e22c31" stroke="#fff" stroke-width="0.5" stroke-opacity="0.7"/>
<text transform="translate(1912.04 481.47) scale(1 1.04)" font-size="18" text-anchor="middle" class="w">4</text>
<ellipse cx="1967.88" cy="476.07" rx="12.25" ry="12.75" fill="#e8cf72" stroke="#fff" stroke-width="0.5" stroke-opacity="0.7"/>
<text transform="translate(1967.88 481.47) scale(1 1.04)" font-size="18" text-anchor="middle" class="w">10</text>
<ellipse cx="1353.61" cy="534.29" rx="12.25" ry="12.75" fill="#e8b55a" stroke="#fff" stroke-width="0.5" stroke-opacity="0.7"/>
<text transform="translate(1353.61 539.69) scale(1 1.04)" font-size="18" text-anchor="middle" class="w">9</text>
<ellipse cx="1409.45" cy="534.29" rx="12.25" ry="12.75" fill="#e8b55a" stroke="#fff" stroke-width="0.5" stroke-opacity="0.7"/>
<text transform="translate(1409.45 539.69) scale(1 1.04)" font-size="18" text-anchor="middle" class="w">9</text>
<ellipse cx="1576.98" cy="534.29" rx="12.25" ry="12.75" fill="#e22c31" stroke="#fff" stroke-width="0.5" stroke-opacity="0.7"/>
<text transform="translate(1576.98 539.69) scale(1 1.04)" font-size="18" text-anchor="middle" class="w">4</text>
<ellipse cx="1744.51" cy="534.29" rx="12.25" ry="12.75" fill="#e8b55a" stroke="#fff" stroke-width="0.5" stroke-opacity="0.7"/>
<text transform="translate(1744.51 539.69) scale(1 1.04)" font-size="18" text-anchor="middle" class="w">9</text>
<ellipse cx="1856.19" cy="534.29" rx="12.25" ry="12.75" fill="#ea9f50" stroke="#fff" stroke-width="0.5" stroke-opacity="0.7"/>
<text transform="translate(1856.19 539.69) scale(1 1.04)" font-size="18" text-anchor="middle" class="w">8</text>
<ellipse cx="1967.88" cy="534.29" rx="12.25" ry="12.75" fill="#85183c" stroke="#fff" stroke-width="0.5" stroke-opacity="0.7"/>
<text transform="translate(1967.88 539.69) scale(1 1.04)" font-size="18" text-anchor="middle" class="w">1</text>
<ellipse cx="1353.61" cy="592.52" rx="12.25" ry="12.75" fill="#f0623c" stroke="#fff" stroke-width="0.5" stroke-opacity="0.7"/>
<text transform="translate(1353.61 597.92) scale(1 1.04)" font-size="18" text-anchor="middle" class="w">6</text>
<ellipse cx="1465.29" cy="592.52" rx="12.25" ry="12.75" fill="#e8cf72" stroke="#fff" stroke-width="0.5" stroke-opacity="0.7"/>
<text transform="translate(1465.29 597.92) scale(1 1.04)" font-size="18" text-anchor="middle" class="w">10</text>
<ellipse cx="1576.98" cy="592.52" rx="12.25" ry="12.75" fill="#ec8445" stroke="#fff" stroke-width="0.5" stroke-opacity="0.7"/>
<text transform="translate(1576.98 597.92) scale(1 1.04)" font-size="18" text-anchor="middle" class="w">7</text>
<ellipse cx="1632.82" cy="592.52" rx="12.25" ry="12.75" fill="#ea9f50" stroke="#fff" stroke-width="0.5" stroke-opacity="0.7"/>
<text transform="translate(1632.82 597.92) scale(1 1.04)" font-size="18" text-anchor="middle" class="w">8</text>
<ellipse cx="1744.51" cy="592.52" rx="12.25" ry="12.75" fill="#ec4535" stroke="#fff" stroke-width="0.5" stroke-opacity="0.7"/>
<text transform="translate(1744.51 597.92) scale(1 1.04)" font-size="18" text-anchor="middle" class="w">5</text>
<ellipse cx="1856.19" cy="592.52" rx="12.25" ry="12.75" fill="#c9253b" stroke="#fff" stroke-width="0.5" stroke-opacity="0.7"/>
<text transform="translate(1856.19 597.92) scale(1 1.04)" font-size="18" text-anchor="middle" class="w">3</text>
<ellipse cx="1912.04" cy="592.52" rx="12.25" ry="12.75" fill="#e8b55a" stroke="#fff" stroke-width="0.5" stroke-opacity="0.7"/>
<text transform="translate(1912.04 597.92) scale(1 1.04)" font-size="18" text-anchor="middle" class="w">9</text>
<ellipse cx="1465.29" cy="650.74" rx="12.25" ry="12.75" fill="#f0623c" stroke="#fff" stroke-width="0.5" stroke-opacity="0.7"/>
<text transform="translate(1465.29 656.14) scale(1 1.04)" font-size="18" text-anchor="middle" class="w">6</text>
<ellipse cx="1521.14" cy="650.74" rx="12.25" ry="12.75" fill="#e8b55a" stroke="#fff" stroke-width="0.5" stroke-opacity="0.7"/>
<text transform="translate(1521.14 656.14) scale(1 1.04)" font-size="18" text-anchor="middle" class="w">9</text>
<ellipse cx="1688.66" cy="650.74" rx="12.25" ry="12.75" fill="#ea9f50" stroke="#fff" stroke-width="0.5" stroke-opacity="0.7"/>
<text transform="translate(1688.66 656.14) scale(1 1.04)" font-size="18" text-anchor="middle" class="w">8</text>
<ellipse cx="1744.51" cy="650.74" rx="12.25" ry="12.75" fill="#ea9f50" stroke="#fff" stroke-width="0.5" stroke-opacity="0.7"/>
<text transform="translate(1744.51 656.14) scale(1 1.04)" font-size="18" text-anchor="middle" class="w">8</text>
<ellipse cx="1856.19" cy="650.74" rx="12.25" ry="12.75" fill="#e8cf72" stroke="#fff" stroke-width="0.5" stroke-opacity="0.7"/>
<text transform="translate(1856.19 656.14) scale(1 1.04)" font-size="18" text-anchor="middle" class="w">10</text>
<ellipse cx="1912.04" cy="650.74" rx="12.25" ry="12.75" fill="#f0623c" stroke="#fff" stroke-width="0.5" stroke-opacity="0.7"/>
<text transform="translate(1912.04 656.14) scale(1 1.04)" font-size="18" text-anchor="middle" class="w">6</text>
<ellipse cx="1967.88" cy="650.74" rx="12.25" ry="12.75" fill="#ec4535" stroke="#fff" stroke-width="0.5" stroke-opacity="0.7"/>
<text transform="translate(1967.88 656.14) scale(1 1.04)" font-size="18" text-anchor="middle" class="w">5</text>
<ellipse cx="1353.61" cy="708.96" rx="12.25" ry="12.75" fill="#ea9f50" stroke="#fff" stroke-width="0.5" stroke-opacity="0.7"/>
<text transform="translate(1353.61 714.36) scale(1 1.04)" font-size="18" text-anchor="middle" class="w">8</text>
<ellipse cx="1465.29" cy="708.96" rx="12.25" ry="12.75" fill="#ea9f50" stroke="#fff" stroke-width="0.5" stroke-opacity="0.7"/>
<text transform="translate(1465.29 714.36) scale(1 1.04)" font-size="18" text-anchor="middle" class="w">8</text>
<ellipse cx="1576.98" cy="708.96" rx="12.25" ry="12.75" fill="#ea9f50" stroke="#fff" stroke-width="0.5" stroke-opacity="0.7"/>
<text transform="translate(1576.98 714.36) scale(1 1.04)" font-size="18" text-anchor="middle" class="w">8</text>
<ellipse cx="1688.66" cy="708.96" rx="12.25" ry="12.75" fill="#e8b55a" stroke="#fff" stroke-width="0.5" stroke-opacity="0.7"/>
<text transform="translate(1688.66 714.36) scale(1 1.04)" font-size="18" text-anchor="middle" class="w">9</text>
<ellipse cx="1744.51" cy="708.96" rx="12.25" ry="12.75" fill="#ec8445" stroke="#fff" stroke-width="0.5" stroke-opacity="0.7"/>
<text transform="translate(1744.51 714.36) scale(1 1.04)" font-size="18" text-anchor="middle" class="w">7</text>
<ellipse cx="1856.19" cy="708.96" rx="12.25" ry="12.75" fill="#ec8445" stroke="#fff" stroke-width="0.5" stroke-opacity="0.7"/>
<text transform="translate(1856.19 714.36) scale(1 1.04)" font-size="18" text-anchor="middle" class="w">7</text>
<ellipse cx="1912.04" cy="708.96" rx="12.25" ry="12.75" fill="#ea9f50" stroke="#fff" stroke-width="0.5" stroke-opacity="0.7"/>
<text transform="translate(1912.04 714.36) scale(1 1.04)" font-size="18" text-anchor="middle" class="w">8</text>
<ellipse cx="1241.92" cy="767.18" rx="12.25" ry="12.75" fill="#e22c31" stroke="#fff" stroke-width="0.5" stroke-opacity="0.7"/>
<text transform="translate(1241.92 772.58) scale(1 1.04)" font-size="18" text-anchor="middle" class="w">4</text>
<ellipse cx="1297.76" cy="767.18" rx="12.25" ry="12.75" fill="#e22c31" stroke="#fff" stroke-width="0.5" stroke-opacity="0.7"/>
<text transform="translate(1297.76 772.58) scale(1 1.04)" font-size="18" text-anchor="middle" class="w">4</text>
<ellipse cx="1521.14" cy="767.18" rx="12.25" ry="12.75" fill="#e8cf72" stroke="#fff" stroke-width="0.5" stroke-opacity="0.7"/>
<text transform="translate(1521.14 772.58) scale(1 1.04)" font-size="18" text-anchor="middle" class="w">10</text>
<ellipse cx="1576.98" cy="767.18" rx="12.25" ry="12.75" fill="#ab1f3e" stroke="#fff" stroke-width="0.5" stroke-opacity="0.7"/>
<text transform="translate(1576.98 772.58) scale(1 1.04)" font-size="18" text-anchor="middle" class="w">2</text>
<ellipse cx="1688.66" cy="767.18" rx="12.25" ry="12.75" fill="#e22c31" stroke="#fff" stroke-width="0.5" stroke-opacity="0.7"/>
<text transform="translate(1688.66 772.58) scale(1 1.04)" font-size="18" text-anchor="middle" class="w">4</text>
<ellipse cx="1744.51" cy="767.18" rx="12.25" ry="12.75" fill="#e22c31" stroke="#fff" stroke-width="0.5" stroke-opacity="0.7"/>
<text transform="translate(1744.51 772.58) scale(1 1.04)" font-size="18" text-anchor="middle" class="w">4</text>
<ellipse cx="1800.35" cy="767.18" rx="12.25" ry="12.75" fill="#e8b55a" stroke="#fff" stroke-width="0.5" stroke-opacity="0.7"/>
<text transform="translate(1800.35 772.58) scale(1 1.04)" font-size="18" text-anchor="middle" class="w">9</text>
<ellipse cx="1912.04" cy="767.18" rx="12.25" ry="12.75" fill="#e8cf72" stroke="#fff" stroke-width="0.5" stroke-opacity="0.7"/>
<text transform="translate(1912.04 772.58) scale(1 1.04)" font-size="18" text-anchor="middle" class="w">10</text>
<ellipse cx="1967.88" cy="767.18" rx="12.25" ry="12.75" fill="#ab1f3e" stroke="#fff" stroke-width="0.5" stroke-opacity="0.7"/>
<text transform="translate(1967.88 772.58) scale(1 1.04)" font-size="18" text-anchor="middle" class="w">2</text>
<ellipse cx="1297.76" cy="825.41" rx="12.25" ry="12.75" fill="#e8cf72" stroke="#fff" stroke-width="0.5" stroke-opacity="0.7"/>
<text transform="translate(1297.76 830.81) scale(1 1.04)" font-size="18" text-anchor="middle" class="w">10</text>
<ellipse cx="1521.14" cy="825.41" rx="12.25" ry="12.75" fill="#ab1f3e" stroke="#fff" stroke-width="0.5" stroke-opacity="0.7"/>
<text transform="translate(1521.14 830.81) scale(1 1.04)" font-size="18" text-anchor="middle" class="w">2</text>
<ellipse cx="1576.98" cy="825.41" rx="12.25" ry="12.75" fill="#f0623c" stroke="#fff" stroke-width="0.5" stroke-opacity="0.7"/>
<text transform="translate(1576.98 830.81) scale(1 1.04)" font-size="18" text-anchor="middle" class="w">6</text>
<ellipse cx="1688.66" cy="825.41" rx="12.25" ry="12.75" fill="#f0623c" stroke="#fff" stroke-width="0.5" stroke-opacity="0.7"/>
<text transform="translate(1688.66 830.81) scale(1 1.04)" font-size="18" text-anchor="middle" class="w">6</text>
<ellipse cx="1744.51" cy="825.41" rx="12.25" ry="12.75" fill="#85183c" stroke="#fff" stroke-width="0.5" stroke-opacity="0.7"/>
<text transform="translate(1744.51 830.81) scale(1 1.04)" font-size="18" text-anchor="middle" class="w">1</text>
<ellipse cx="1241.92" cy="883.63" rx="12.25" ry="12.75" fill="#ec4535" stroke="#fff" stroke-width="0.5" stroke-opacity="0.7"/>
<text transform="translate(1241.92 889.03) scale(1 1.04)" font-size="18" text-anchor="middle" class="w">5</text>
<ellipse cx="1465.29" cy="883.63" rx="12.25" ry="12.75" fill="#c9253b" stroke="#fff" stroke-width="0.5" stroke-opacity="0.7"/>
<text transform="translate(1465.29 889.03) scale(1 1.04)" font-size="18" text-anchor="middle" class="w">3</text>
<ellipse cx="1576.98" cy="883.63" rx="12.25" ry="12.75" fill="#ec4535" stroke="#fff" stroke-width="0.5" stroke-opacity="0.7"/>
<text transform="translate(1576.98 889.03) scale(1 1.04)" font-size="18" text-anchor="middle" class="w">5</text>
<ellipse cx="1632.82" cy="883.63" rx="12.25" ry="12.75" fill="#f0623c" stroke="#fff" stroke-width="0.5" stroke-opacity="0.7"/>
<text transform="translate(1632.82 889.03) scale(1 1.04)" font-size="18" text-anchor="middle" class="w">6</text>
<ellipse cx="1688.66" cy="883.63" rx="12.25" ry="12.75" fill="#ec8445" stroke="#fff" stroke-width="0.5" stroke-opacity="0.7"/>
<text transform="translate(1688.66 889.03) scale(1 1.04)" font-size="18" text-anchor="middle" class="w">7</text>
<ellipse cx="1800.35" cy="883.63" rx="12.25" ry="12.75" fill="#c9253b" stroke="#fff" stroke-width="0.5" stroke-opacity="0.7"/>
<text transform="translate(1800.35 889.03) scale(1 1.04)" font-size="18" text-anchor="middle" class="w">3</text>
<ellipse cx="1967.88" cy="883.63" rx="12.25" ry="12.75" fill="#e8b55a" stroke="#fff" stroke-width="0.5" stroke-opacity="0.7"/>
<text transform="translate(1967.88 889.03) scale(1 1.04)" font-size="18" text-anchor="middle" class="w">9</text>
<ellipse cx="1409.45" cy="941.85" rx="12.25" ry="12.75" fill="#ec4535" stroke="#fff" stroke-width="0.5" stroke-opacity="0.7"/>
<text transform="translate(1409.45 947.25) scale(1 1.04)" font-size="18" text-anchor="middle" class="w">5</text>
<ellipse cx="1465.29" cy="941.85" rx="12.25" ry="12.75" fill="#ab1f3e" stroke="#fff" stroke-width="0.5" stroke-opacity="0.7"/>
<text transform="translate(1465.29 947.25) scale(1 1.04)" font-size="18" text-anchor="middle" class="w">2</text>
<ellipse cx="1521.14" cy="941.85" rx="12.25" ry="12.75" fill="#85183c" stroke="#fff" stroke-width="0.5" stroke-opacity="0.7"/>
<text transform="translate(1521.14 947.25) scale(1 1.04)" font-size="18" text-anchor="middle" class="w">1</text>
<ellipse cx="1576.98" cy="941.85" rx="12.25" ry="12.75" fill="#c9253b" stroke="#fff" stroke-width="0.5" stroke-opacity="0.7"/>
<text transform="translate(1576.98 947.25) scale(1 1.04)" font-size="18" text-anchor="middle" class="w">3</text>
<ellipse cx="1688.66" cy="941.85" rx="12.25" ry="12.75" fill="#ec4535" stroke="#fff" stroke-width="0.5" stroke-opacity="0.7"/>
<text transform="translate(1688.66 947.25) scale(1 1.04)" font-size="18" text-anchor="middle" class="w">5</text>
<ellipse cx="1800.35" cy="941.85" rx="12.25" ry="12.75" fill="#f0623c" stroke="#fff" stroke-width="0.5" stroke-opacity="0.7"/>
<text transform="translate(1800.35 947.25) scale(1 1.04)" font-size="18" text-anchor="middle" class="w">6</text>
<ellipse cx="1241.92" cy="1000.07" rx="12.25" ry="12.75" fill="#85183c" stroke="#fff" stroke-width="0.5" stroke-opacity="0.7"/>
<text transform="translate(1241.92 1005.47) scale(1 1.04)" font-size="18" text-anchor="middle" class="w">1</text>
<ellipse cx="1465.29" cy="1000.07" rx="12.25" ry="12.75" fill="#e22c31" stroke="#fff" stroke-width="0.5" stroke-opacity="0.7"/>
<text transform="translate(1465.29 1005.47) scale(1 1.04)" font-size="18" text-anchor="middle" class="w">4</text>
<ellipse cx="1576.98" cy="1000.07" rx="12.25" ry="12.75" fill="#85183c" stroke="#fff" stroke-width="0.5" stroke-opacity="0.7"/>
<text transform="translate(1576.98 1005.47) scale(1 1.04)" font-size="18" text-anchor="middle" class="w">1</text>
<ellipse cx="1688.66" cy="1000.07" rx="12.25" ry="12.75" fill="#ab1f3e" stroke="#fff" stroke-width="0.5" stroke-opacity="0.7"/>
<text transform="translate(1688.66 1005.47) scale(1 1.04)" font-size="18" text-anchor="middle" class="w">2</text>
<ellipse cx="1800.35" cy="1000.07" rx="12.25" ry="12.75" fill="#ab1f3e" stroke="#fff" stroke-width="0.5" stroke-opacity="0.7"/>
<text transform="translate(1800.35 1005.47) scale(1 1.04)" font-size="18" text-anchor="middle" class="w">2</text>
<ellipse cx="1967.88" cy="1000.07" rx="12.25" ry="12.75" fill="#ea9f50" stroke="#fff" stroke-width="0.5" stroke-opacity="0.7"/>
<text transform="translate(1967.88 1005.47) scale(1 1.04)" font-size="18" text-anchor="middle" class="w">8</text>
<ellipse cx="1241.92" cy="1058.29" rx="12.25" ry="12.75" fill="#ab1f3e" stroke="#fff" stroke-width="0.5" stroke-opacity="0.7"/>
<text transform="translate(1241.92 1063.69) scale(1 1.04)" font-size="18" text-anchor="middle" class="w">2</text>
<ellipse cx="1297.76" cy="1058.29" rx="12.25" ry="12.75" fill="#c9253b" stroke="#fff" stroke-width="0.5" stroke-opacity="0.7"/>
<text transform="translate(1297.76 1063.69) scale(1 1.04)" font-size="18" text-anchor="middle" class="w">3</text>
<ellipse cx="1353.61" cy="1058.29" rx="12.25" ry="12.75" fill="#e8cf72" stroke="#fff" stroke-width="0.5" stroke-opacity="0.7"/>
<text transform="translate(1353.61 1063.69) scale(1 1.04)" font-size="18" text-anchor="middle" class="w">10</text>
<ellipse cx="1409.45" cy="1058.29" rx="12.25" ry="12.75" fill="#e8cf72" stroke="#fff" stroke-width="0.5" stroke-opacity="0.7"/>
<text transform="translate(1409.45 1063.69) scale(1 1.04)" font-size="18" text-anchor="middle" class="w">10</text>
<ellipse cx="1465.29" cy="1058.29" rx="12.25" ry="12.75" fill="#85183c" stroke="#fff" stroke-width="0.5" stroke-opacity="0.7"/>
<text transform="translate(1465.29 1063.69) scale(1 1.04)" font-size="18" text-anchor="middle" class="w">1</text>
<ellipse cx="1521.14" cy="1058.29" rx="12.25" ry="12.75" fill="#ec8445" stroke="#fff" stroke-width="0.5" stroke-opacity="0.7"/>
<text transform="translate(1521.14 1063.69) scale(1 1.04)" font-size="18" text-anchor="middle" class="w">7</text>
<ellipse cx="1632.82" cy="1058.29" rx="12.25" ry="12.75" fill="#ab1f3e" stroke="#fff" stroke-width="0.5" stroke-opacity="0.7"/>
<text transform="translate(1632.82 1063.69) scale(1 1.04)" font-size="18" text-anchor="middle" class="w">2</text>
<ellipse cx="1688.66" cy="1058.29" rx="12.25" ry="12.75" fill="#c9253b" stroke="#fff" stroke-width="0.5" stroke-opacity="0.7"/>
<text transform="translate(1688.66 1063.69) scale(1 1.04)" font-size="18" text-anchor="middle" class="w">3</text>
<ellipse cx="1800.35" cy="1058.29" rx="12.25" ry="12.75" fill="#ec4535" stroke="#fff" stroke-width="0.5" stroke-opacity="0.7"/>
<text transform="translate(1800.35 1063.69) scale(1 1.04)" font-size="18" text-anchor="middle" class="w">5</text>
<ellipse cx="1297.76" cy="1116.52" rx="12.25" ry="12.75" fill="#85183c" stroke="#fff" stroke-width="0.5" stroke-opacity="0.7"/>
<text transform="translate(1297.76 1121.92) scale(1 1.04)" font-size="18" text-anchor="middle" class="w">1</text>
<ellipse cx="1632.82" cy="1116.52" rx="12.25" ry="12.75" fill="#e8cf72" stroke="#fff" stroke-width="0.5" stroke-opacity="0.7"/>
<text transform="translate(1632.82 1121.92) scale(1 1.04)" font-size="18" text-anchor="middle" class="w">10</text>
<ellipse cx="1688.66" cy="1116.52" rx="12.25" ry="12.75" fill="#e8cf72" stroke="#fff" stroke-width="0.5" stroke-opacity="0.7"/>
<text transform="translate(1688.66 1121.92) scale(1 1.04)" font-size="18" text-anchor="middle" class="w">10</text>
<ellipse cx="1800.35" cy="1116.52" rx="12.25" ry="12.75" fill="#85183c" stroke="#fff" stroke-width="0.5" stroke-opacity="0.7"/>
<text transform="translate(1800.35 1121.92) scale(1 1.04)" font-size="18" text-anchor="middle" class="w">1</text>
<ellipse cx="1409.45" cy="1174.74" rx="12.25" ry="12.75" fill="#ea9f50" stroke="#fff" stroke-width="0.5" stroke-opacity="0.7"/>
<text transform="translate(1409.45 1180.14) scale(1 1.04)" font-size="18" text-anchor="middle" class="w">8</text>
<ellipse cx="1521.14" cy="1174.74" rx="12.25" ry="12.75" fill="#e22c31" stroke="#fff" stroke-width="0.5" stroke-opacity="0.7"/>
<text transform="translate(1521.14 1180.14) scale(1 1.04)" font-size="18" text-anchor="middle" class="w">4</text>
<ellipse cx="1632.82" cy="1174.74" rx="12.25" ry="12.75" fill="#85183c" stroke="#fff" stroke-width="0.5" stroke-opacity="0.7"/>
<text transform="translate(1632.82 1180.14) scale(1 1.04)" font-size="18" text-anchor="middle" class="w">1</text>
<ellipse cx="1688.66" cy="1174.74" rx="12.25" ry="12.75" fill="#85183c" stroke="#fff" stroke-width="0.5" stroke-opacity="0.7"/>
<text transform="translate(1688.66 1180.14) scale(1 1.04)" font-size="18" text-anchor="middle" class="w">1</text>
<rect x="1215.6" y="157.7" width="778.7" height="1044.9" fill="none" stroke="#fff" stroke-opacity="0.6" stroke-width="1"/>
<rect x="1214" y="156.1" width="781.9" height="1048.1" fill="none" stroke="#000" stroke-width="2.2"/>
<text transform="translate(1197.6 192.86) scale(1 1.04)" font-size="21.3" text-anchor="end">Female 90+</text>
<text transform="translate(1197.6 251.08) scale(1 1.04)" font-size="21.3" text-anchor="end">Male 90+</text>
<text transform="translate(1197.6 309.31) scale(1 1.04)" font-size="21.3" text-anchor="end">Female 80-90</text>
<text transform="translate(1197.6 367.53) scale(1 1.04)" font-size="21.3" text-anchor="end">Male 80-90</text>
<text transform="translate(1197.6 425.75) scale(1 1.04)" font-size="21.3" text-anchor="end">Female 70-80</text>
<text transform="translate(1197.6 483.97) scale(1 1.04)" font-size="21.3" text-anchor="end">Male 70-80</text>
<text transform="translate(1197.6 542.19) scale(1 1.04)" font-size="21.3" text-anchor="end">Female 60-70</text>
<text transform="translate(1197.6 600.42) scale(1 1.04)" font-size="21.3" text-anchor="end">Male 60-70</text>
<text transform="translate(1197.6 658.64) scale(1 1.04)" font-size="21.3" text-anchor="end">Female 50-60</text>
<text transform="translate(1197.6 716.86) scale(1 1.04)" font-size="21.3" text-anchor="end">Male 50-60</text>
<text transform="translate(1197.6 775.08) scale(1 1.04)" font-size="21.3" text-anchor="end">Female 40-50</text>
<text transform="translate(1197.6 833.31) scale(1 1.04)" font-size="21.3" text-anchor="end">Male 40-50</text>
<text transform="translate(1197.6 891.53) scale(1 1.04)" font-size="21.3" text-anchor="end">Female 30-40</text>
<text transform="translate(1197.6 949.75) scale(1 1.04)" font-size="21.3" text-anchor="end">Male 30-40</text>
<text transform="translate(1197.6 1007.97) scale(1 1.04)" font-size="21.3" text-anchor="end">Female 20-30</text>
<text transform="translate(1197.6 1066.19) scale(1 1.04)" font-size="21.3" text-anchor="end">Male 20-30</text>
<text transform="translate(1197.6 1124.42) scale(1 1.04)" font-size="21.3" text-anchor="end">Female 16-20</text>
<text transform="translate(1197.6 1182.64) scale(1 1.04)" font-size="21.3" text-anchor="end">Male 16-20</text>
<text transform="translate(1247.92 141.2) rotate(-90) scale(1 1.04)" font-size="21.15">AF</text>
<text transform="translate(1303.76 141.2) rotate(-90) scale(1 1.04)" font-size="21.15">SVT</text>
<text transform="translate(1359.61 141.2) rotate(-90) scale(1 1.04)" font-size="21.15">ST</text>
<text transform="translate(1415.45 141.2) rotate(-90) scale(1 1.04)" font-size="21.15">SB</text>
<text transform="translate(1471.29 141.2) rotate(-90) scale(1 1.04)" font-size="21.15">PVC</text>
<text transform="translate(1527.14 141.2) rotate(-90) scale(1 1.04)" font-size="21.15">PAC</text>
<text transform="translate(1582.98 141.2) rotate(-90) scale(1 1.04)" font-size="21.15">PR</text>
<text transform="translate(1638.82 141.2) rotate(-90) scale(1 1.04)" font-size="21.15">AVB</text>
<text transform="translate(1694.66 141.2) rotate(-90) scale(1 1.04)" font-size="21.15">RBBB</text>
<text transform="translate(1750.51 141.2) rotate(-90) scale(1 1.04)" font-size="21.15">LBBB</text>
<text transform="translate(1806.35 141.2) rotate(-90) scale(1 1.04)" font-size="21.15">LVH</text>
<text transform="translate(1862.19 141.2) rotate(-90) scale(1 1.04)" font-size="21.15">STTC</text>
<text transform="translate(1918.04 141.2) rotate(-90) scale(1 1.04)" font-size="21.15">PQTI</text>
<text transform="translate(1973.88 141.2) rotate(-90) scale(1 1.04)" font-size="21.15">LowQRS</text>
<text transform="translate(1040 681) rotate(-90) scale(1 1.04)" font-size="23.5" text-anchor="middle">Sex-Age group</text>
<rect x="128.2" y="1233.7" width="1039.8" height="68.8" rx="1.5" fill="#ebf3fb" stroke="#7b8084" stroke-width="1.2"/>
<text transform="translate(648 1259.6) scale(1 1.04)" font-size="23.7" text-anchor="middle">Confusion frequency</text>
<path d="M136.4 1282.6H179.1" stroke="#fff" stroke-width="4.3" stroke-linecap="round"/>
<circle cx="157.9" cy="1282.6" r="9.75" fill="#ef7f24" stroke="#fff" stroke-width="0.9"/>
<text transform="translate(196 1289.8) scale(1 1.04)" font-size="21.3">Most frequent</text>
<path d="M379.1 1282.6H421.8" stroke="#fff" stroke-width="4.3" stroke-linecap="round"/>
<circle cx="400.6" cy="1282.6" r="9.75" fill="#9966cc" stroke="#fff" stroke-width="0.9"/>
<text transform="translate(438.7 1289.8) scale(1 1.04)" font-size="21.3">Second most</text>
<path d="M615.1 1282.6H657.8" stroke="#fff" stroke-width="4.3" stroke-linecap="round"/>
<circle cx="636.6" cy="1282.6" r="9.75" fill="#3f83bf" stroke="#fff" stroke-width="0.9"/>
<text transform="translate(674.7 1289.8) scale(1 1.04)" font-size="21.3">Third most</text>
<path d="M826.8 1282.6H869.5" stroke="#fff" stroke-width="4.3" stroke-linecap="round"/>
<path d="M848.3 1273.3L858.1 1292L838.5 1292Z" fill="#888888" stroke="#fff" stroke-width="0.9" stroke-linejoin="round"/>
<text transform="translate(886.4 1289.8) scale(1 1.04)" font-size="21.3">Co-occurred FP conditions</text>
<rect x="1389.3" y="1234.2" width="559.5" height="68.5" rx="1.5" fill="#ebf3fb" stroke="#7b8084" stroke-width="1.2"/>
<text transform="translate(1669.2 1259.6) scale(1 1.04)" font-size="23.7" text-anchor="middle">Confusion risk rank</text>
<path d="M1398.2 1282.8H1440.9" stroke="#fff" stroke-width="4.3" stroke-linecap="round"/>
<circle cx="1419.7" cy="1282.8" r="9.75" fill="#80112b" stroke="#fff" stroke-width="0.9"/>
<text transform="translate(1457.8 1290) scale(1 1.04)" font-size="21.3">Rank 1-3</text>
<path d="M1588.8 1282.8H1631.5" stroke="#fff" stroke-width="4.3" stroke-linecap="round"/>
<circle cx="1610.3" cy="1282.8" r="9.75" fill="#f4532d" stroke="#fff" stroke-width="0.9"/>
<text transform="translate(1648.4 1290) scale(1 1.04)" font-size="21.3">Rank 4-7</text>
<path d="M1779.6 1282.8H1822.3" stroke="#fff" stroke-width="4.3" stroke-linecap="round"/>
<circle cx="1801.1" cy="1282.8" r="9.75" fill="#e8aa4e" stroke="#fff" stroke-width="0.9"/>
<text transform="translate(1839.2 1290) scale(1 1.04)" font-size="21.3">Rank 8-10</text>
</svg>
</body></html>
